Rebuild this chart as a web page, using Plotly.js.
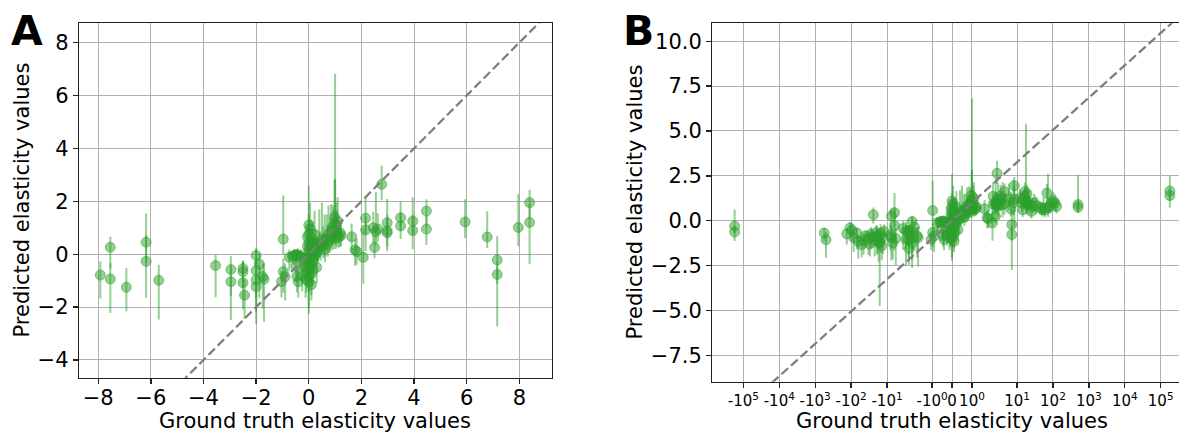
<!DOCTYPE html>
<html>
<head>
<meta charset="utf-8">
<script src="https://cdn.plot.ly/plotly-3.0.1.min.js"></script>
<style>
  html, body { margin: 0; padding: 0; background: #ffffff; }
  #chart { width: 1179px; height: 432px; }
</style>
</head>
<body>
<div id="chart"></div>
<script>
// ---------------- data ----------------
const groundTruth = [
  -175000, -175000, -560, -500, -132, -107, -95, -85, -69, -63, -51, -45, -40, -33, -30, -28, -26, -24, -22, -20, -19, -18, -17, -16, -15, -14, -13, -12,
  -7.92, -7.54, -7.54, -6.93, -6.18, -6.18, -5.70,
  -3.54, -2.96, -2.96, -2.50, -2.50, -2.50, -2.44, -2.00, -2.00, -2.00, -2.00, -1.88, -1.75, -1.70,
  -0.97, -0.97, -1.04, -0.90, -0.74, -0.62, -0.55, -0.48, -0.42, -0.35, -0.28, -0.40, -0.49, -0.45, -0.20, -0.25,
  0, 0, 0, 0, 0, 0, 0, 0,
  0.05, 0.05, 0.06, 0.08, 0.10, 0.10, 0.10, 0.12,
  -0.05, -0.08, -0.10, -0.12, -0.15, -0.05,
  0.15, 0.18, 0.20, 0.22, 0.25, 0.28, 0.30, 0.15,
  0.30, 0.35, 0.40, 0.45, 0.50, 0.55, 0.60, 0.62, 0.68, 0.72, 0.75, 0.80, 0.85, 0.88, 0.92, 0.95, 0.98, 1.00, 1.00, 1.02, 1.05, 1.08, 1.10, 1.15, 1.20, 1.22,
  1.63, 1.76, 1.82, 2.07, 2.16, 2.16, 2.45, 2.50, 2.55, 2.62, 2.77, 2.98, 2.98, 2.98, 3.49, 3.49, 3.95, 3.95, 4.47, 4.47, 5.94, 6.78, 7.16, 7.16, 7.96, 8.39, 8.39,
  12.1, 13.5, 14.4, 15.0, 16.6, 16.6, 17.8, 18.7, 19.0, 20.2, 22.0, 25.0, 27.0, 30.0, 34.0, 45, 51, 55, 60, 68, 73, 83, 90, 103, 115, 127, 500, 500, 180000, 180000
];
const predicted = [
  -0.30, -0.63, -0.69, -1.06, -0.73, -0.41, -0.55, -0.95, -0.69, -1.15, -1.34, -1.10, -0.85, -1.00, -1.30, -0.75, -0.90, 0.33, -1.10, -0.65, -0.90, -1.00, -1.20, -1.25, -0.70, -1.40, -0.95, -0.60,
  -0.79, 0.26, -0.94, -1.25, 0.45, -0.27, -0.99,
  -0.43, -0.58, -1.04, -0.54, -0.66, -1.08, -1.55, -0.05, -0.62, -0.98, -1.23, -0.37, -0.85, -0.95,
  0.57, -0.66, -1.04, -0.85, -0.12, -0.08, -0.05, -0.02, -0.03, -0.08, -0.10, -1.04, -0.46, -0.84, -0.45, -0.80,
  1.10, 0.75, 0.45, 0.15, -0.20, -0.55, -0.85, -1.05,
  0.95, 0.35, -0.05, -0.40, -0.75, 0.60, -1.15, 0.15,
  0.30, -0.30, -0.65, -0.95, -0.15, 0.65,
  0.45, -0.25, 0.10, 0.75, -0.05, 0.30, -0.50, -0.60,
  0.05, 0.15, 0.40, 0.25, 0.55, 0.35, 0.50, 0.20, 0.60, 0.40, 0.75, 0.55, 0.90, 0.65, 1.05, 0.80, 1.40, 0.85, 1.15, 0.60, 0.95, 0.75, 1.25, 0.65, 0.80, 0.70,
  0.66, 0.16, 0.10, -0.12, 1.36, 0.92, 1.00, 0.25, 0.85, 0.95, 2.64, 1.19, 0.89, 0.81, 1.38, 1.07, 1.25, 0.89, 1.63, 0.95, 1.22, 0.65, -0.22, -0.77, 1.01, 1.95, 1.20,
  1.26, 0.98, 0.61, 1.20, 1.63, 1.35, 1.00, 0.89, 1.50, 1.07, 0.89, 0.52, 0.80, 1.00, 0.84, 0.70, 0.63, 0.72, 0.60, 1.54, 0.72, 0.80, 1.00, 1.09, 0.98, 0.80, 0.90, 0.75, 1.65, 1.40
];
const errUpper = [
  0.93, 0.35, 0.30, 0.45, 0.30, 0.35, 0.40, 0.40, 0.30, 0.35, 0.40, 0.40, 0.30, 0.45, 0.40, 0.40, 0.40, 0.40, 0.50, 0.40, 0.60, 0.50, 0.70, 0.60, 0.50, 0.50, 0.40, 0.40,
  0.52, 0.40, 0.60, 0.73, 1.10, 1.00, 0.59,
  0.40, 0.50, 0.60, 0.30, 0.40, 0.80, 0.60, 0.30, 0.80, 0.70, 0.50, 0.40, 0.50, 0.60,
  1.65, 0.50, 0.40, 0.50, 0.30, 0.20, 0.25, 0.20, 0.25, 0.20, 0.30, 0.50, 0.40, 0.40, 0.50, 0.50,
  1.50, 0.80, 0.70, 0.60, 0.60, 0.50, 0.60, 0.50,
  1.00, 0.60, 0.50, 0.50, 0.50, 0.70, 0.50, 0.50,
  0.60, 0.50, 0.50, 0.40, 0.40, 0.50,
  0.80, 0.60, 0.50, 0.90, 0.50, 0.60, 0.50, 0.40,
  0.50, 0.50, 1.30, 0.60, 1.40, 0.70, 1.00, 0.60, 0.90, 0.70, 1.10, 0.80, 1.00, 0.70, 0.80, 0.90, 1.40, 5.97, 1.70, 0.80, 1.00, 0.90, 0.90, 0.60, 0.50, 0.50,
  0.50, 0.40, 0.50, 1.10, 0.80, 0.50, 0.60, 0.50, 1.50, 0.60, 0.70, 0.90, 0.60, 0.50, 0.60, 0.50, 0.90, 0.60, 0.45, 0.50, 0.86, 0.97, 0.90, 0.50, 1.26, 0.49, 0.70,
  0.50, 0.60, 0.50, 0.50, 0.50, 0.50, 4.40, 0.60, 0.50, 0.60, 0.50, 0.50, 0.50, 0.50, 0.50, 0.40, 0.40, 0.60, 0.40, 0.50, 1.90, 0.50, 0.50, 0.50, 0.50, 0.40, 1.65, 0.40, 0.83, 0.40
];
const errLower = [
  0.40, 0.50, 0.45, 1.00, 0.60, 0.55, 0.60, 0.80, 0.90, 0.95, 0.70, 0.80, 0.70, 0.90, 0.70, 0.80, 0.60, 0.50, 0.90, 0.70, 1.00, 0.80, 1.10, 3.50, 1.10, 0.80, 0.90, 0.70,
  0.89, 0.80, 1.28, 0.91, 0.80, 1.39, 1.48,
  1.20, 1.00, 1.45, 0.50, 0.60, 1.00, 0.90, 0.40, 1.00, 1.20, 1.40, 1.30, 1.20, 1.60,
  0.60, 0.80, 0.60, 0.90, 0.50, 0.30, 0.35, 0.30, 0.30, 0.35, 0.40, 0.60, 0.60, 0.60, 0.60, 0.60,
  0.50, 0.60, 0.70, 0.60, 0.80, 0.90, 1.20, 1.20,
  0.50, 0.60, 0.60, 0.70, 0.80, 0.50, 0.60, 0.50,
  0.50, 0.60, 0.80, 0.70, 0.50, 0.50,
  0.50, 0.60, 0.50, 0.60, 0.50, 0.50, 0.60, 0.60,
  0.40, 0.40, 0.50, 0.50, 0.50, 0.50, 0.60, 0.50, 0.50, 0.50, 0.60, 0.50, 0.60, 0.50, 0.60, 0.60, 0.70, 0.50, 0.60, 0.40, 0.50, 0.50, 0.60, 0.40, 0.50, 0.40,
  0.50, 0.60, 0.50, 1.00, 0.60, 0.80, 0.60, 0.40, 0.50, 0.50, 0.60, 0.60, 0.60, 0.70, 0.50, 0.50, 0.50, 0.70, 0.60, 0.60, 0.61, 0.42, 0.90, 1.96, 0.71, 0.60, 1.56,
  0.50, 0.50, 0.40, 0.50, 0.60, 0.60, 0.60, 0.50, 0.60, 0.50, 0.50, 0.40, 0.40, 0.50, 0.50, 0.40, 0.40, 0.40, 0.40, 0.60, 0.50, 0.40, 0.50, 0.40, 0.50, 0.40, 0.45, 0.30, 0.50, 0.68
];

// tick definitions
const xTicksA = [-8, -6, -4, -2, 0, 2, 4, 6, 8];
const yTicksA = [-4, -2, 0, 2, 4, 6, 8];
const xTicksB = [-1e5, -1e4, -1e3, -1e2, -1e1, -1, 0, 1, 1e1, 1e2, 1e3, 1e4, 1e5];
const xTickLabelsB = ['-10<sup>5</sup>', '-10<sup>4</sup>', '-10<sup>3</sup>', '-10<sup>2</sup>', '-10<sup>1</sup>', '-10<sup>0</sup>', '0',
                      '10<sup>0</sup>', '10<sup>1</sup>', '10<sup>2</sup>', '10<sup>3</sup>', '10<sup>4</sup>', '10<sup>5</sup>'];
const yTicksB = [-7.5, -5, -2.5, 0, 2.5, 5, 7.5, 10];
const yTickLabelsB = ['\u22127.5', '\u22125.0', '\u22122.5', '0.0', '2.5', '5.0', '7.5', '10.0'];

// ---------------- symlog scale (matplotlib-style, linthresh 2) ----------------
const LINTHRESH = 2, LINSCALE = 1, BASE = 10;
const linscaleAdj = LINSCALE / (1 - 1 / BASE);
function symlog(v) {
  const a = Math.abs(v);
  if (a <= LINTHRESH) return v * linscaleAdj;
  return Math.sign(v) * LINTHRESH * (linscaleAdj + Math.log(a / LINTHRESH) / Math.log(BASE));
}

// ---------------- layout geometry ----------------
const W = 1179, H = 432;
const xRangeA = [-8.73, 9.23], yRangeA = [-4.67, 8.73];
const xRangeB = [-13.35, 12.64], yRangeB = [-8.97, 11.0];

const green = 'rgba(44,160,44,0.5)';
const idxA = groundTruth.map((g, i) => (Math.abs(g) <= 10 ? i : -1)).filter(i => i >= 0);
const pick = (arr, idx) => idx.map(i => arr[i]);

const markerStyle = () => ({ size: 10, color: green, line: { color: green, width: 1 } });

const traceA = {
  type: 'scatter', mode: 'markers', xaxis: 'x', yaxis: 'y',
  x: pick(groundTruth, idxA), y: pick(predicted, idxA),
  marker: markerStyle(),
  error_y: { type: 'data', symmetric: false, array: pick(errUpper, idxA), arrayminus: pick(errLower, idxA),
             color: green, thickness: 2, width: 0 },
  hoverinfo: 'skip'
};
const traceB = {
  type: 'scatter', mode: 'markers', xaxis: 'x2', yaxis: 'y2',
  x: groundTruth.map(symlog), y: predicted,
  marker: markerStyle(),
  error_y: { type: 'data', symmetric: false, array: errUpper, arrayminus: errLower,
             color: green, thickness: 2, width: 0 },
  hoverinfo: 'skip'
};

// identity reference lines
const diagA = [Math.min(xRangeA[0], yRangeA[0]) - 1, Math.max(xRangeA[1], yRangeA[1]) + 1];
const lineStyle = () => ({ color: '#7f7f7f', width: 2.3, dash: '9px,4px' });
const lineA = {
  type: 'scatter', mode: 'lines', xaxis: 'x', yaxis: 'y', x: diagA, y: diagA,
  line: lineStyle(), hoverinfo: 'skip'
};
const slopeB = 1 / symlog(1); // straight line through (0,0) and (1,1) in display space
const uB = [xRangeB[0] - 1, xRangeB[1] + 1];
const lineB = {
  type: 'scatter', mode: 'lines', xaxis: 'x2', yaxis: 'y2', x: uB, y: uB.map(u => u * slopeB),
  line: lineStyle(), hoverinfo: 'skip'
};

const FONT = 'DejaVu Sans, sans-serif';
function axisBase(fontSize) {
  return {
    showgrid: true, gridcolor: '#b0b0b0', gridwidth: 1,
    zeroline: false, showline: true, linecolor: '#222222', linewidth: 1.3,
    ticks: 'outside', ticklen: 5, tickwidth: 1.3, tickcolor: '#222222',
    tickfont: { family: FONT, size: fontSize, color: '#000000' }, fixedrange: true
  };
}

const px = v => v / W, py = v => 1 - v / H;

const layout = {
  width: W, height: H,
  margin: { l: 0, r: 0, t: 0, b: 0, pad: 0 },
  paper_bgcolor: '#ffffff', plot_bgcolor: '#ffffff',
  showlegend: false,
  font: { family: FONT, size: 21, color: '#000000' },
  xaxis: Object.assign(axisBase(21), {
    domain: [px(79), px(551.7)], range: xRangeA, anchor: 'y', mirror: true,
    tickmode: 'array', tickvals: xTicksA, ticklabelstandoff: -4
  }),
  yaxis: Object.assign(axisBase(21), {
    domain: [py(377.7), py(23.3)], range: yRangeA, anchor: 'x', mirror: true,
    tickmode: 'array', tickvals: yTicksA
  }),
  xaxis2: Object.assign(axisBase(15), {
    domain: [px(712.3), 1], range: xRangeB, anchor: 'y2', mirror: true,
    tickmode: 'array', tickvals: xTicksB.map(symlog), ticktext: xTickLabelsB, tickangle: 0,
    ticklabelstandoff: 0
  }),
  yaxis2: Object.assign(axisBase(21), {
    domain: [py(381.7), py(23.3)], range: yRangeB, anchor: 'x2', mirror: false,
    tickmode: 'array', tickvals: yTicksB, ticktext: yTickLabelsB
  }),
  annotations: [
    { text: 'Ground truth elasticity values', xref: 'paper', yref: 'paper', x: px(315.4), y: py(421), xanchor: 'center', yanchor: 'middle',
      showarrow: false, font: { family: FONT, size: 21, color: '#000000' } },
    { text: 'Ground truth elasticity values', xref: 'paper', yref: 'paper', x: px(952), y: py(421), xanchor: 'center', yanchor: 'middle',
      showarrow: false, font: { family: FONT, size: 21, color: '#000000' } },
    { text: 'Predicted elasticity values', xref: 'paper', yref: 'paper', x: px(21), y: py(200.5), xanchor: 'center', yanchor: 'middle',
      textangle: -90, showarrow: false, font: { family: FONT, size: 21, color: '#000000' } },
    { text: 'Predicted elasticity values', xref: 'paper', yref: 'paper', x: px(634), y: py(202.5), xanchor: 'center', yanchor: 'middle',
      textangle: -90, showarrow: false, font: { family: FONT, size: 21, color: '#000000' } },
    { text: '<b>A</b>', xref: 'paper', yref: 'paper', x: px(9), y: py(31), xanchor: 'left', yanchor: 'middle',
      showarrow: false, font: { family: FONT, size: 41, color: '#000000' } },
    { text: '<b>B</b>', xref: 'paper', yref: 'paper', x: px(621), y: py(31), xanchor: 'left', yanchor: 'middle',
      showarrow: false, font: { family: FONT, size: 41, color: '#000000' } }
  ]
};

Plotly.newPlot('chart', [traceA, lineA, traceB, lineB], layout, { staticPlot: true, displayModeBar: false });
</script>
</body>
</html>
